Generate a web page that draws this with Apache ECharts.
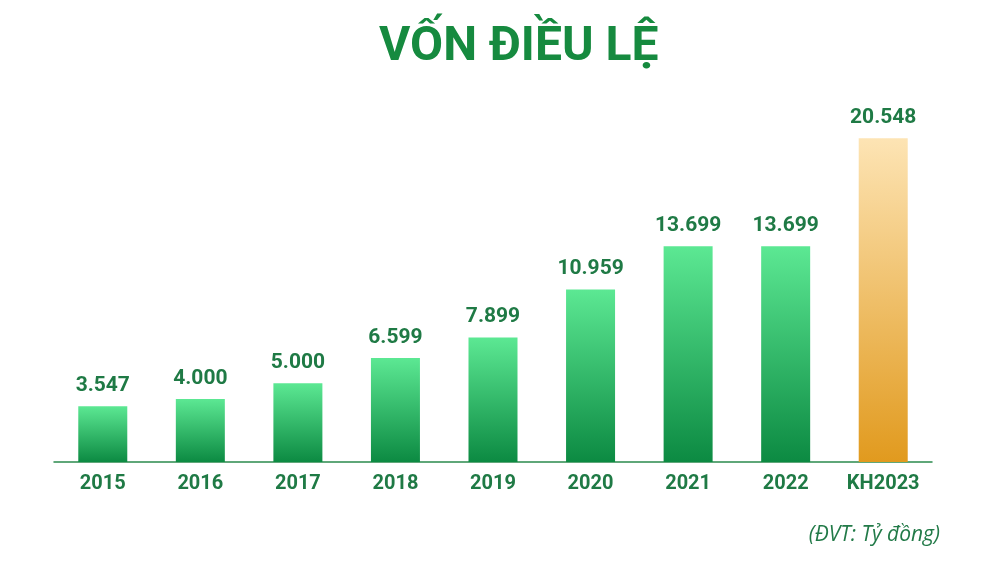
<!DOCTYPE html>
<html><head><meta charset="utf-8">
<script src="https://cdn.jsdelivr.net/npm/echarts@6/dist/echarts.min.js"></script>
<style>html,body{margin:0;padding:0;background:#fff}#c{width:1000px;height:582px}</style>
</head><body><div id="c"></div>
<script>
const categories = ['2015','2016','2017','2018','2019','2020','2021','2022','KH2023'];
const values = [3547, 4000, 5000, 6599, 7899, 10959, 13699, 13699, 20548];
const planIndex = 8;

const greenGrad = new echarts.graphic.LinearGradient(0,0,0,1,[{offset:0,color:'#5ce893'},{offset:1,color:'#0c8a42'}]);
const orangeGrad = new echarts.graphic.LinearGradient(0,0,0,1,[{offset:0,color:'#fde4b4'},{offset:1,color:'#e19a1e'}]);

const chart = echarts.init(document.getElementById('c'));
chart.setOption({
  animation:false,
  title:{text:'VỐN ĐIỀU LỆ',left:374,top:19,textStyle:{fontFamily:'Roboto',fontWeight:'bold',fontSize:48,color:'#168a3f'}},
  graphic:[{type:'text',right:60,top:525,style:{text:'(ĐVT: Tỷ đồng)',font:'italic 21px "Open Sans"',fill:'#227a48'}}],
  grid:{left:54,right:68,top:84,bottom:120},
  xAxis:{type:'category',data:categories,
    axisLine:{lineStyle:{color:'#2b8a4e',width:1.5}},axisTick:{show:false},
    axisLabel:{color:'#1f7a45',fontFamily:'Roboto',fontWeight:'bold',fontSize:20,margin:12}},
  yAxis:{type:'value',min:0,max:24000,show:false,splitLine:{show:false}},
  series:[{type:'bar',barWidth:49,
    data:values.map((v,i)=>({value:v,itemStyle:{color:i===planIndex?orangeGrad:greenGrad}})),
    label:{show:true,position:'top',distance:10,color:'#1f7a45',fontFamily:'Roboto',fontWeight:'bold',fontSize:21,
      formatter:p=>p.value.toLocaleString('de-DE')}}]
});
</script></body></html>
